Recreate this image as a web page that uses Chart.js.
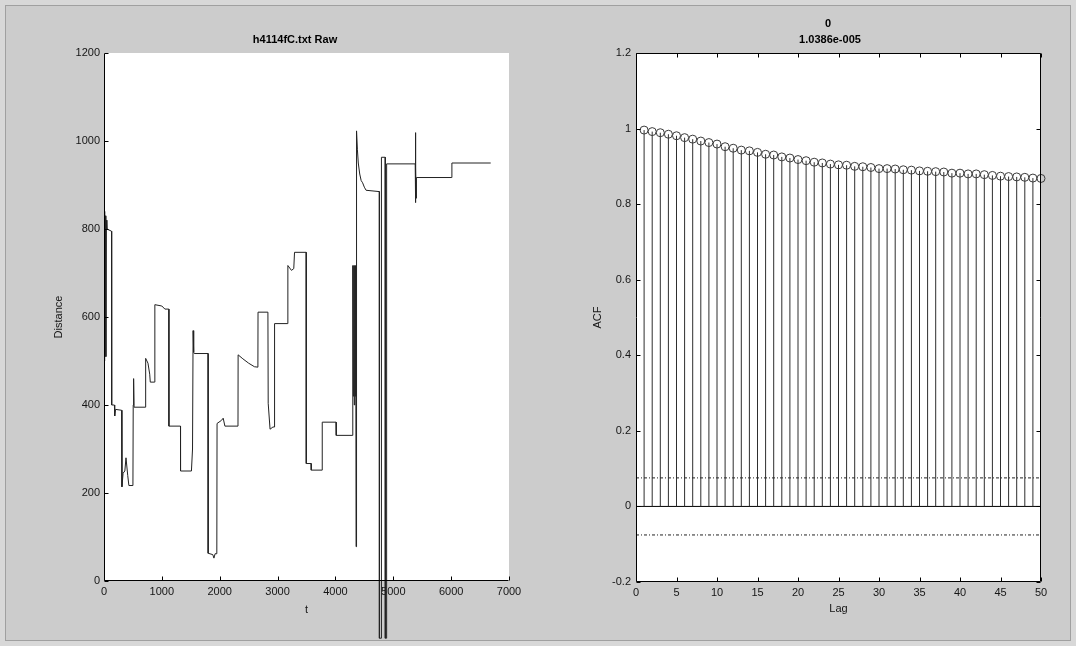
<!DOCTYPE html>
<html><head><meta charset="utf-8">
<script src="https://cdn.jsdelivr.net/npm/chart.js@4.4.1/dist/chart.umd.min.js"></script>
<style>
html,body{margin:0;padding:0;background:#d8d8d8;width:1076px;height:646px;overflow:hidden;}
#frame{position:absolute;left:5px;top:5px;width:1064px;height:634px;background:#cccccc;border:1px solid #a0a0a0;}
canvas{position:absolute;top:0;}
#c1{left:0}
#c2{left:538px}
</style></head><body>
<div id="frame"></div>
<canvas id="c1" width="538" height="646"></canvas>
<canvas id="c2" width="538" height="646"></canvas>
<script>
// ---- Left panel: raw series ----
const rawT = [0,8,16,24,32,40,50,130,133,180,185,200,305,310,330,360,380,410,430,500,505,512,520,718,720,760,790,800,870,879,1000,1052,1121,1122,1322,1323,1511,1530,1540,1550,1560,1799,1800,1880,1900,1920,1950,1954,2030,2060,2090,2316,2318,2400,2500,2600,2660,2662,2833,2838,2870,2920,2946,2948,3176,3178,3240,3280,3293,3494,3496,3580,3582,3770,3772,4011,4014,4299,4300,4310,4318,4326,4334,4342,4350,4357,4362,4368,4380,4395,4420,4445,4470,4500,4530,4759,4760,4788,4795,4860,4862,4882,4885,5379,5381,5386,5390,5395,5400,6011,6013,6684];
const rawDistance = [500,840,520,830,510,820,800,795,400,400,375,390,388,214,245,250,280,240,217,217,400,460,395,395,506,495,470,452,452,628,625,618,618,352,352,250,250,300,569,520,517,517,63,60,52,62,62,358,365,370,352,352,514,505,495,487,486,611,611,404,345,350,350,585,585,717,706,710,747,747,267,267,252,252,361,361,331,331,717,420,717,400,717,420,717,78,717,1023,980,950,925,910,905,895,888,885,-130,-130,963,963,-130,-130,948,948,1019,860,940,870,917,917,950,950];
const rawXTicks = [0,1000,2000,3000,4000,5000,6000,7000];
const rawYTicks = [0,200,400,600,800,1000,1200];

// ---- Right panel: ACF ----
const lags = [1,2,3,4,5,6,7,8,9,10,11,12,13,14,15,16,17,18,19,20,21,22,23,24,25,26,27,28,29,30,31,32,33,34,35,36,37,38,39,40,41,42,43,44,45,46,47,48,49,50];
const acf = [0.996,0.992,0.989,0.985,0.981,0.976,0.972,0.967,0.963,0.959,0.952,0.948,0.943,0.941,0.937,0.932,0.930,0.925,0.922,0.918,0.915,0.911,0.909,0.906,0.904,0.903,0.900,0.899,0.897,0.894,0.894,0.893,0.891,0.890,0.888,0.887,0.886,0.885,0.882,0.882,0.880,0.880,0.878,0.876,0.874,0.873,0.872,0.871,0.869,0.868];
const confBound = [0.0755, -0.0755];
const lagTicks = [0,5,10,15,20,25,30,35,40,45,50];
const acfTicks = [-0.2,0,0.2,0.4,0.6,0.8,1,1.2];

Chart.defaults.font.family = "'Liberation Sans', Arial, Helvetica, sans-serif";
Chart.defaults.font.size = 11;
Chart.defaults.color = '#151515';

function makeFrame(cfg){
  return {
    id:'frame_'+cfg.name,
    beforeDraw(chart){
      const {ctx, chartArea:a} = chart;
      ctx.save(); ctx.fillStyle='#ffffff';
      ctx.fillRect(a.left, a.top, a.right-a.left, a.bottom-a.top);
      ctx.restore();
    },
    afterDatasetsDraw(chart){
      const {ctx, chartArea:a, scales:{x,y}} = chart;
      ctx.save();
      ctx.strokeStyle='#000'; ctx.lineWidth=1; ctx.setLineDash([]);
      const L=Math.round(a.left)+0.5, R=Math.round(a.right)-0.5, T=Math.round(a.top)+0.5, B=Math.round(a.bottom)-0.5;
      ctx.beginPath();
      ctx.moveTo(L,T); ctx.lineTo(L,B); ctx.lineTo(R,B);
      if(cfg.box){ ctx.lineTo(R,T); ctx.lineTo(L,T); }
      ctx.stroke();
      const len=4;
      ctx.beginPath();
      cfg.xt.forEach(v=>{ const px=Math.round(x.getPixelForValue(v))+0.5; ctx.moveTo(px,B); ctx.lineTo(px,B-len); if(cfg.box){ctx.moveTo(px,T);ctx.lineTo(px,T+len);} });
      cfg.yt.forEach(v=>{ const py=Math.round(y.getPixelForValue(v))+0.5; ctx.moveTo(L,py); ctx.lineTo(L+len,py); if(cfg.box){ctx.moveTo(R,py);ctx.lineTo(R-len,py);} });
      ctx.stroke();
      ctx.fillStyle='#000';
      ctx.font="bold 11px 'Liberation Sans', Arial, sans-serif";
      ctx.textAlign='center'; ctx.textBaseline='middle';
      cfg.titles.forEach(t=>ctx.fillText(t.text, t.x, t.y));
      ctx.restore();
    }
  };
}

// Left chart
const leftPts = rawT.map((t,i)=>({x:t, y:rawDistance[i]}));
new Chart(document.getElementById('c1'), {
  type:'scatter',
  data:{datasets:[{data:leftPts, showLine:true, pointRadius:0, borderColor:'#222', borderWidth:1, clip:false, tension:0}]},
  options:{
    responsive:false, animation:false, devicePixelRatio:1, events:[],
    layout:{padding:{top:53, right:29, bottom:0, left:0}},
    plugins:{legend:{display:false}, title:{display:false}, tooltip:{enabled:false}},
    scales:{
      x:{type:'linear', min:0, max:7000, grid:{display:false, drawTicks:false}, border:{display:false},
         afterBuildTicks:s=>{ s.ticks = rawXTicks.map(v=>({value:v})); },
         ticks:{padding:4, maxRotation:0, autoSkip:false, callback:v=>String(v)},
         title:{display:true, text:'t', font:{size:11}, padding:{top:0,bottom:29.4}},
         afterFit:s=>{ s.height = 646-581; }},
      y:{type:'linear', min:0, max:1200, grid:{display:false, drawTicks:false}, border:{display:false},
         afterBuildTicks:s=>{ s.ticks = rawYTicks.map(v=>({value:v})); },
         ticks:{padding:4, autoSkip:false, callback:v=>String(v)},
         title:{display:true, text:'Distance', font:{size:11}, padding:{top:52.4,bottom:0}},
         afterFit:s=>{ s.width = 104; }}
    }
  },
  plugins:[makeFrame({name:'l', box:false, xt:rawXTicks, yt:rawYTicks, titles:[{text:'h4114fC.txt Raw', x:295, y:40}]})]
});

// Right chart
const stemPts = [];
lags.forEach((l,i)=>{ stemPts.push({x:l,y:0},{x:l,y:acf[i]},{x:l,y:null}); });
const markPts = lags.map((l,i)=>({x:l,y:acf[i]}));
const lagMin = lagTicks[0], lagMax = lagTicks[lagTicks.length-1];
new Chart(document.getElementById('c2'), {
  type:'scatter',
  data:{datasets:[
    {data:markPts, showLine:false, pointRadius:4, pointStyle:'circle', pointBorderColor:'#3c3c3c', pointBackgroundColor:'rgba(255,255,255,0)', pointBorderWidth:1, clip:false},
    {data:stemPts, showLine:true, spanGaps:false, pointRadius:0, borderColor:'#2e2e2e', borderWidth:1},
    {data:[{x:lagMin,y:0},{x:lagMax,y:0}], showLine:true, pointRadius:0, borderColor:'#000', borderWidth:1},
    {data:[{x:lagMin,y:confBound[0]},{x:lagMax,y:confBound[0]}], showLine:true, pointRadius:0, borderColor:'#222', borderWidth:1, borderDash:[3,2,1,2]},
    {data:[{x:lagMin,y:confBound[1]},{x:lagMax,y:confBound[1]}], showLine:true, pointRadius:0, borderColor:'#222', borderWidth:1, borderDash:[3,2,1,2]}
  ]},
  options:{
    responsive:false, animation:false, devicePixelRatio:1, events:[],
    layout:{padding:{top:53, right:35, bottom:0, left:0}},
    plugins:{legend:{display:false}, title:{display:false}, tooltip:{enabled:false}},
    scales:{
      x:{type:'linear', min:lagMin, max:lagMax, grid:{display:false, drawTicks:false}, border:{display:false},
         afterBuildTicks:s=>{ s.ticks = lagTicks.map(v=>({value:v})); },
         ticks:{padding:4, maxRotation:0, autoSkip:false, callback:v=>String(v)},
         title:{display:true, text:'Lag', font:{size:11}, padding:{top:0,bottom:30.4}},
         afterFit:s=>{ s.height = 646-582; }},
      y:{type:'linear', min:-0.2, max:1.2, grid:{display:false, drawTicks:false}, border:{display:false},
         afterBuildTicks:s=>{ s.ticks = acfTicks.map(v=>({value:v})); },
         ticks:{padding:5, autoSkip:false, callback:v=>String(Math.round(v*10)/10)},
         title:{display:true, text:'ACF', font:{size:11}, padding:{top:53.4,bottom:0}},
         afterFit:s=>{ s.width = 98; }}
    }
  },
  plugins:[makeFrame({name:'r', box:true, xt:lagTicks, yt:acfTicks, titles:[{text:'0', x:290, y:24},{text:'1.0386e-005', x:292, y:40}]})]
});
</script>
</body></html>
